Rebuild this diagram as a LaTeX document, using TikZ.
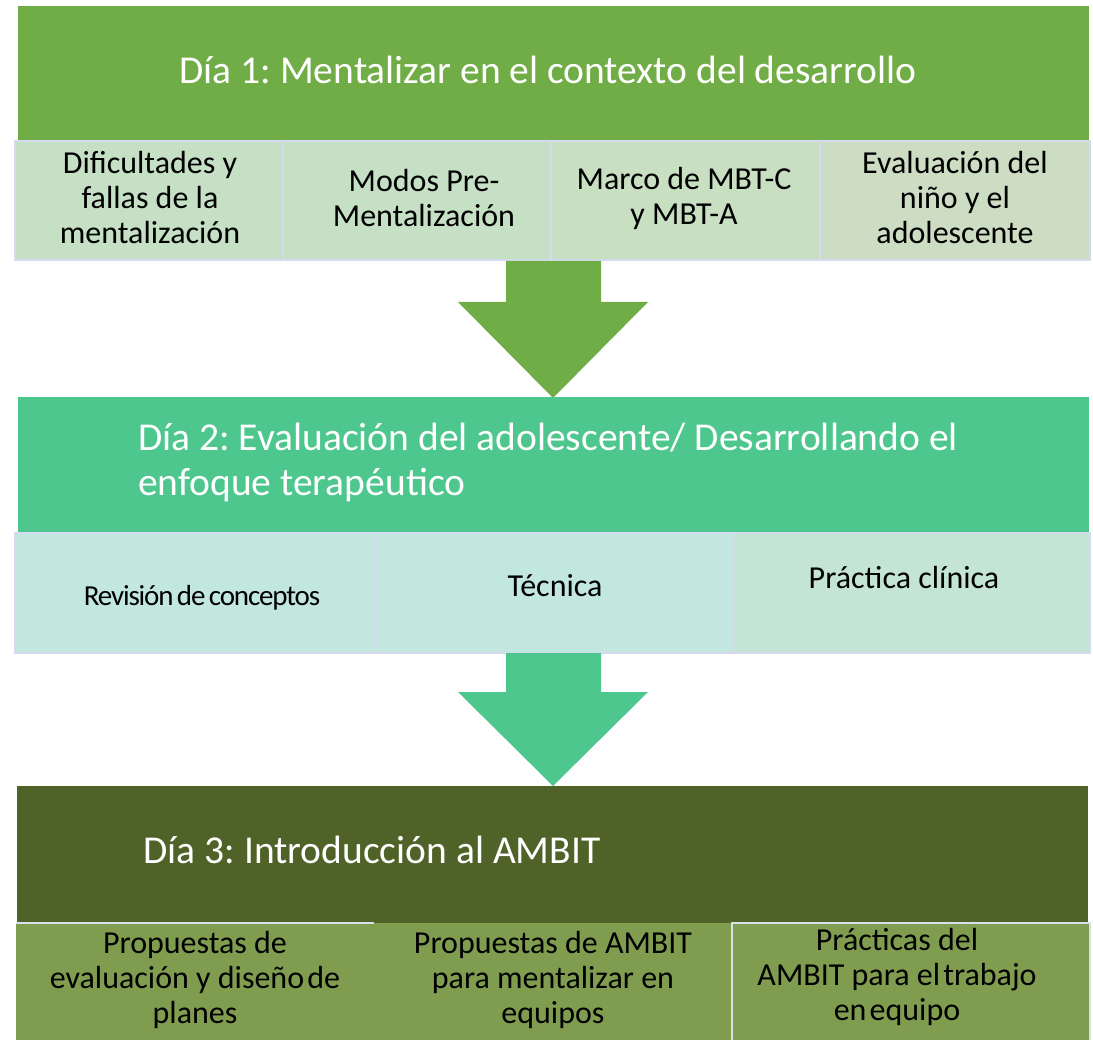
\documentclass[tikz,border=0pt]{standalone}
\usepackage{fontspec}
\setmainfont{Carlito}
\frenchspacing
\definecolor{dA}{HTML}{70AD47}
\definecolor{dB}{HTML}{4EC78E}
\definecolor{dC}{HTML}{4F6228}
\definecolor{sA}{HTML}{C5E0C4}
\definecolor{sAc}{HTML}{C8DFC2}
\definecolor{sAd}{HTML}{CCDDC3}
\definecolor{sB}{HTML}{C2E7DE}
\definecolor{sBc}{HTML}{C4E5D5}
\definecolor{sC}{HTML}{809D4F}
\definecolor{bord}{HTML}{D5DBEF}
\definecolor{bordC}{HTML}{D8E0EC}
\tikzset{
  hdr/.style={anchor=north west, inner sep=0pt, outer sep=0pt},
  sub/.style={anchor=north west, inner sep=0pt, outer sep=0pt, draw=bord, line width=2pt},
  htext/.style={text=white, font=\frenchspacing\fontsize{39.5}{45}\selectfont, inner sep=0pt},
  stext/.style={text=black, font=\frenchspacing\fontsize{32}{35}\selectfont, align=center, inner sep=0pt},
}
\begin{document}
\begin{tikzpicture}[x=1pt,y=-1pt]
\useasboundingbox (0,0) rectangle (1093,1040);
% Day 1
\node[hdr, fill=dA, minimum width=1071pt, minimum height=135pt] (h1) at (18,6) {};
\node[sub, fill=sA,  minimum width=268pt, minimum height=119pt] (a1) at (15,141) {};
\node[sub, fill=sA,  minimum width=268pt, minimum height=119pt] (a2) at (283,141) {};
\node[sub, fill=sAc, minimum width=269pt, minimum height=119pt] (a3) at (551,141) {};
\node[sub, fill=sAd, minimum width=270pt, minimum height=119pt] (a4) at (820,141) {};
\node[htext] (t1) at (548,70) {Día 1: Mentalizar en el contexto del desarrollo};
\node[stext] (ta1) at (150,198) {Dificultades y\\fallas de la\\mentalización};
\node[stext] (ta2) at (424,198) {Modos Pre-\\Mentalización};
\node[stext] (ta3) at (684,198) {Marco de MBT-C\\y MBT-A};
\node[stext] (ta4) at (955,198) {Evaluación del\\niño y el\\adolescente};
% Arrow 1
\fill[dA] (506,261) -- (601,261) -- (601,302) -- (648,302) -- (553,398) -- (458,302) -- (506,302) -- cycle;
% Day 2
\node[hdr, fill=dB, minimum width=1071pt, minimum height=136pt] (h2) at (18,397) {};
\node[sub, fill=sB,  minimum width=360pt, minimum height=120pt] (b1) at (15,533) {};
\node[sub, fill=sB,  minimum width=358pt, minimum height=120pt] (b2) at (375,533) {};
\node[sub, fill=sBc, minimum width=357pt, minimum height=120pt] (b3) at (733,533) {};
\node[htext, anchor=west, align=left] (t2) at (138,462) {Día 2: Evaluación del adolescente/ Desarrollando el\\enfoque terapéutico};
\node[stext, font=\fontsize{29}{30}\selectfont\addfontfeatures{LetterSpace=-4}] (tb1) at (202,598) {Revisión\hspace{0.12em}de\hspace{0.12em}conceptos};
\node[stext] (tb2) at (555,586) {Técnica};
\node[stext] (tb3) at (904,578) {Práctica clínica};
% Arrow 2
\fill[dB] (506,653) -- (601,653) -- (601,692) -- (648,692) -- (553,786) -- (458,692) -- (506,692) -- cycle;
% Day 3
\node[hdr, fill=dC, minimum width=1071pt, minimum height=137pt] (h3) at (17,786) {};
\node[sub, fill=sC, draw=none, minimum width=358pt, minimum height=118pt] (c1) at (16,923) {};
\node[sub, fill=sC, draw=none, minimum width=358pt, minimum height=118pt] (c2) at (374,923) {};
\node[sub, fill=sC, draw=bordC, minimum width=358pt, minimum height=118pt] (c3) at (732,923) {};
\draw[bordC, line width=2pt] (c1.north west) -- (c1.north east);
\node[htext] (t3) at (372,850) {Día 3: Introducción al AMBIT};
\node[stext] (tc1) at (195,980) {Propuestas de\\evaluación y diseño\hspace{0.1em}de\\planes};
\node[stext] (tc2) at (553,980) {Propuestas de AMBIT\\para mentalizar en\\equipos};
\node[stext] (tc3) at (897,977) {Prácticas del\\AMBIT para el\hspace{0.1em}trabajo\\en\hspace{0.1em}equipo};
\end{tikzpicture}
\end{document}
